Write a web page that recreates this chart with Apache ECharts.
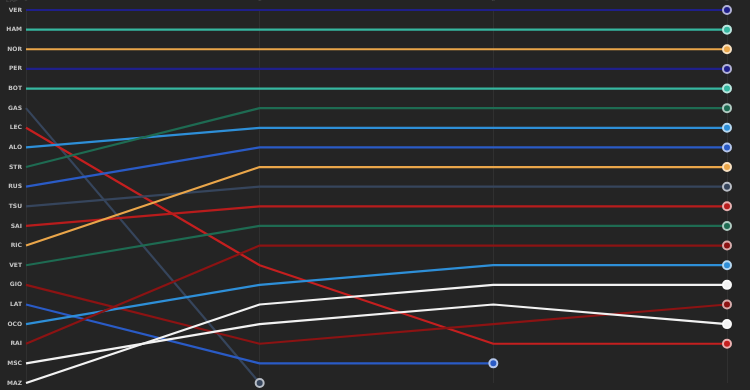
<!DOCTYPE html>
<html>
<head>
<meta charset="utf-8">
<script src="https://cdn.jsdelivr.net/npm/echarts@6/dist/echarts.min.js"></script>
<style>
html,body{margin:0;padding:0;background:#242424;}
#c{width:750px;height:390px;}
</style>
</head>
<body>
<div id="c"></div>
<script>
// Starting grid order (tick labels of the y axis)
const drivers = ['VER','HAM','NOR','PER','BOT','GAS','LEC','ALO','STR','RUS','TSU','SAI','RIC','VET','GIO','LAT','OCO','RAI','MSC','MAZ'];
const laps = [0, 1, 2, 3];
const lapLabels = ['0', '1', '2', '3'];

// Positions per lap (lap 0..3); shorter arrays = retired
const VER = [1, 1, 1, 1];
const HAM = [2, 2, 2, 2];
const NOR = [3, 3, 3, 3];
const PER = [4, 4, 4, 4];
const BOT = [5, 5, 5, 5];
const GAS = [6, 20];
const LEC = [7, 14, 18, 18];
const ALO = [8, 7, 7, 7];
const STR = [9, 6, 6, 6];
const RUS = [10, 8, 8, 8];
const TSU = [11, 10, 10, 10];
const SAI = [12, 11, 11, 11];
const RIC = [13, 9, 9, 9];
const VET = [14, 12, 12, 12];
const GIO = [15, 18, 17, 16];
const LAT = [16, 19, 19];
const OCO = [17, 15, 14, 14];
const RAI = [18, 13, 13, 13];
const MSC = [19, 17, 16, 17];
const MAZ = [20, 16, 15, 15];

const positions = {VER,HAM,NOR,PER,BOT,GAS,LEC,ALO,STR,RUS,TSU,SAI,RIC,VET,GIO,LAT,OCO,RAI,MSC,MAZ};

const colors = {
  VER:'#1f1f8a', PER:'#1f1f8a',
  HAM:'#36b7a0', BOT:'#36b7a0',
  NOR:'#eaa64a', RIC:'#eaa64a',
  GAS:'#36455c', TSU:'#36455c',
  LEC:'#c41f1f', SAI:'#b81c1c',
  ALO:'#2e8fd8', OCO:'#2e8fd8',
  STR:'#1e6b52', VET:'#1e6b52',
  RUS:'#2a5bc6', LAT:'#2a5bc6',
  GIO:'#8c1313', RAI:'#8c1313',
  MSC:'#f2f2f2', MAZ:'#f2f2f2'
};

function lighten(hex, t){
  const n = parseInt(hex.slice(1),16);
  let r=(n>>16)&255,g=(n>>8)&255,b=n&255;
  r=Math.round(r+(255-r)*t);g=Math.round(g+(255-g)*t);b=Math.round(b+(255-b)*t);
  return 'rgb('+r+','+g+','+b+')';
}

const series = drivers.map(d => {
  const arr = positions[d];
  const c = colors[d];
  return {
    name: d,
    type: 'line',
    silent: true,
    showSymbol: true,
    symbol: 'circle',
    lineStyle: {color: c, width: 2.2},
    itemStyle: {color: c, borderColor: lighten(c, 0.65), borderWidth: 2},
    data: arr.map((p, i) => ({
      value: [laps[i], p],
      symbolSize: i === arr.length - 1 ? 8 : 0
    }))
  };
});

const chart = echarts.init(document.getElementById('c'));
chart.setOption({
  backgroundColor: '#242424',
  animation: false,
  grid: {left: 26, right: 23, top: 10, bottom: 7, containLabel: false, outerBoundsMode: 'none'},
  xAxis: {
    type: 'value', min: 0, max: 3, interval: 1, position: 'top',
    name: 'LAP', nameLocation: 'start', nameGap: 8,
    nameTextStyle: {color: '#444', fontSize: 6, fontWeight: 'bold', verticalAlign: 'bottom', padding: [0, 0, 7, 0]},
    axisLine: {show: false}, axisTick: {show: false},
    axisLabel: {color: '#444', fontSize: 7, margin: 7, formatter: v => lapLabels[v]},
    splitLine: {show: true, lineStyle: {color: '#303030', width: 1}}
  },
  yAxis: {
    type: 'value', min: 1, max: 20, interval: 1, inverse: true,
    axisLine: {show: false}, axisTick: {show: false},
    splitLine: {show: false},
    axisLabel: {
      color: '#c4c4c4', fontSize: 6, fontWeight: 'bold', margin: 4,
      fontFamily: 'DejaVu Sans',
      formatter: v => drivers[v - 1] || ''
    }
  },
  series: series
});
</script>
</body>
</html>
